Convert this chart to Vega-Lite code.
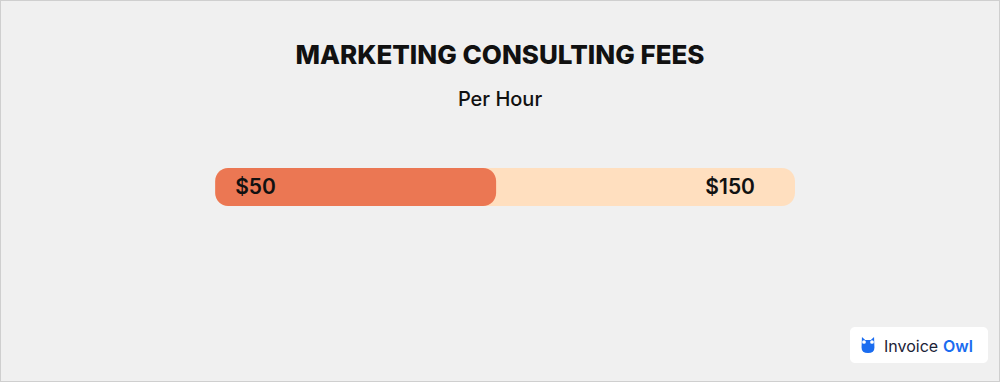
{
  "$schema": "https://vega.github.io/schema/vega-lite/v6.json",
  "width": 1000,
  "height": 382,
  "padding": 0,
  "autosize": {"type": "none"},
  "background": "#f0f0f0",
  "title": {
    "text": "MARKETING CONSULTING FEES",
    "subtitle": "Per Hour",
    "anchor": "middle",
    "frame": "group",
    "offset": -110,
    "font": "Inter",
    "fontSize": 26,
    "fontWeight": 800,
    "color": "#111111",
    "subtitleFont": "Inter",
    "subtitleFontSize": 20,
    "subtitleFontWeight": 500,
    "subtitleColor": "#111111",
    "subtitlePadding": 21
  },
  "config": {
    "view": {"stroke": "#cfcfcf", "strokeWidth": 2}
  },
  "data": {
    "values": [
      {"bound": "Minimum", "fee": 50, "label": "$50", "rate": "Per Hour"},
      {"bound": "Maximum", "fee": 150, "label": "$150", "rate": "Per Hour"}
    ]
  },
  "layer": [
    {
      "transform": [{"filter": "datum.bound === 'Maximum'"}],
      "mark": {"type": "bar", "size": 38, "cornerRadius": 13, "color": "#ffdfbf"},
      "encoding": {
        "y": {
          "field": "rate", "type": "nominal", "axis": null,
          "scale": {"type": "band", "paddingInner": 0, "paddingOuter": 0.0107, "align": 0}
        },
        "x": {"field": "fee", "type": "quantitative", "axis": null,
              "scale": {"domain": [-116, 218.6], "nice": false, "zero": false}},
        "x2": {"datum": -44}
      }
    },
    {
      "transform": [{"filter": "datum.bound === 'Minimum'"}],
      "mark": {"type": "bar", "size": 38, "cornerRadius": 13, "color": "#eb7753"},
      "encoding": {
        "y": {"field": "rate", "type": "nominal"},
        "x": {"field": "fee", "type": "quantitative"},
        "x2": {"datum": -44}
      }
    },
    {
      "transform": [{"filter": "datum.bound === 'Minimum'"}],
      "mark": {"type": "text", "align": "left", "baseline": "middle", "dx": 20, "dy": 1,
               "font": "Inter", "fontSize": 21, "fontWeight": 600, "color": "#111111"},
      "encoding": {
        "y": {"field": "rate", "type": "nominal"},
        "x": {"datum": -44, "type": "quantitative"},
        "text": {"field": "label"}
      }
    },
    {
      "transform": [{"filter": "datum.bound === 'Maximum'"}],
      "mark": {"type": "text", "align": "right", "baseline": "middle", "dx": -40, "dy": 1,
               "font": "Inter", "fontSize": 21, "fontWeight": 600, "color": "#111111"},
      "encoding": {
        "y": {"field": "rate", "type": "nominal"},
        "x": {"field": "fee", "type": "quantitative"},
        "text": {"field": "label"}
      }
    },
    {
      "data": {"values": [{"brand": "InvoiceOwl"}]},
      "mark": {"type": "rect", "x": 850, "x2": 988, "y": 327, "y2": 363, "cornerRadius": 5, "color": "#ffffff"},
      "encoding": {}
    },
    {
      "data": {"values": [{"brand": "InvoiceOwl"}]},
      "mark": {"type": "point", "x": 868, "y": 345, "size": 260, "filled": true, "color": "#1a6cf0", "opacity": 1,
               "shape": "M-0.75,-1 L-0.35,-0.62 L0.35,-0.62 L0.75,-1 L0.8,0.3 Q0.8,1 0,1 Q-0.8,1 -0.8,0.3 Z"},
      "encoding": {}
    },
    {
      "data": {"values": [{"brand": "InvoiceOwl"}]},
      "mark": {"type": "point", "x": 864, "y": 342, "size": 14, "filled": true, "color": "#ffffff", "opacity": 1, "shape": "circle"},
      "encoding": {}
    },
    {
      "data": {"values": [{"brand": "InvoiceOwl"}]},
      "mark": {"type": "point", "x": 872, "y": 342, "size": 14, "filled": true, "color": "#ffffff", "opacity": 1, "shape": "circle"},
      "encoding": {}
    },
    {
      "data": {"values": [{"brand": "Invoice"}]},
      "mark": {"type": "text", "x": 884, "y": 352, "align": "left", "baseline": "alphabetic",
               "font": "Inter", "fontSize": 16, "fontWeight": 400, "color": "#1b2236"},
      "encoding": {"text": {"field": "brand"}}
    },
    {
      "data": {"values": [{"brand": "Owl"}]},
      "mark": {"type": "text", "x": 943, "y": 352, "align": "left", "baseline": "alphabetic",
               "font": "Inter", "fontSize": 16, "fontWeight": 600, "color": "#1a6cf0"},
      "encoding": {"text": {"field": "brand"}}
    }
  ]
}
